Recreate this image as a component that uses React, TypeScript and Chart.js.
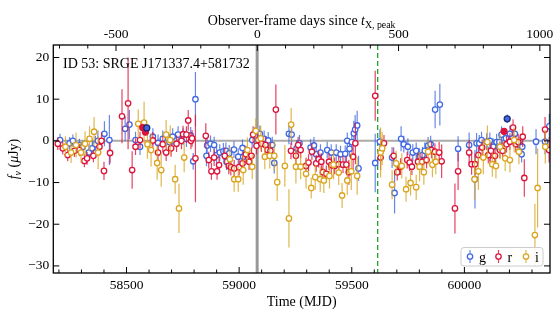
import React, { useEffect, useRef } from "react";
import { Chart, registerables } from "chart.js";
Chart.register(...registerables);

const FONT = '"Liberation Serif", "Times New Roman", serif';

// Axis ranges and tick labels
const X_MIN = 58175;
const X_MAX = 60380;
const Y_MIN = -31.7;
const Y_MAX = 23;
const TOP_MIN = -722;
const TOP_MAX = 1036;
const X_TICKS = [58500, 59000, 59500, 60000];
const TOP_TICKS = [-500, 0, 500, 1000];
const Y_TICKS = [20, 10, 0, -10, -20, -30];
const T_XPEAK_MJD = 59080;
const DASHED_MJD = 59615;

// g band
const gTime = [58205, 58247, 58262, 58291, 58305, 58333, 58348, 58362, 58373, 58402, 58424, 58494, 58513, 58540, 58560, 58617, 58640, 58661, 58690, 58705, 58729, 58751, 58766, 58785, 58796, 58806, 58855, 58858, 58873, 58889, 58900, 58914, 58930, 58941, 58944, 58956, 58977, 58996, 59015, 59018, 59058, 59070, 59092, 59111, 59129, 59147, 59156, 59221, 59233, 59255, 59268, 59317, 59332, 59342, 59361, 59391, 59409, 59431, 59450, 59471, 59480, 59490, 59500, 59509, 59515, 59524, 59530, 59604, 59625, 59679, 59690, 59719, 59731, 59749, 59771, 59786, 59801, 59814, 59824, 59839, 59850, 59870, 59891, 59972, 60021, 60047, 60054, 60066, 60076, 60099, 60113, 60128, 60143, 60155, 60165, 60184, 60202, 60224, 60247, 60254, 60257, 60318, 60358, 60377];
const gFlux = [0.2, -0.6, 0.0, -1.0, -1.5, -2.8, -1.8, -0.8, 0.0, 1.7, 0.2, 2.9, 3.9, 0.2, -1.4, 1.0, -0.5, 0.5, -0.3, 1.0, 1.5, 1.0, 0.5, 1.3, -4.9, 10.0, -3.6, -1.1, -0.7, -1.0, -3.4, -2.8, -2.5, -2.4, -5.0, -3.0, -2.1, -3.8, -1.7, -3.8, 0.2, 1.3, 1.7, 0.5, 0.1, -1.0, -5.3, 1.7, 1.5, -1.8, -0.6, -1.6, -1.1, -3.2, -2.8, -2.2, -2.8, -2.8, -3.2, -3.1, 0.0, -1.9, -0.3, 1.8, 2.7, 3.7, -6.6, -5.3, -0.2, -4.0, -12.5, 0.5, -0.8, -1.4, -2.8, -2.4, -3.8, -3.4, -2.4, -1.1, -0.8, 7.5, 8.7, -1.9, -1.0, -9.2, -0.6, -0.6, 0.2, -0.2, 0.0, -1.4, -0.3, -0.3, 1.5, 0.6, 1.7, 1.7, -1.1, -3.2, -1.4, -0.2, -0.2, 3.5];
const gErr = [1.5, 1.5, 1.5, 1.5, 1.5, 2.0, 2.0, 2.0, 2.5, 3.0, 6.0, 3.0, 3.5, 2.0, 2.0, 2.0, 2.0, 2.0, 2.0, 2.0, 2.0, 2.0, 2.0, 2.0, 2.0, 6.5, 2.5, 2.5, 2.0, 2.0, 2.0, 2.0, 2.0, 2.0, 2.0, 2.0, 2.0, 2.0, 2.0, 2.0, 2.0, 2.0, 2.0, 2.0, 2.0, 2.0, 2.5, 2.5, 2.5, 2.0, 2.0, 2.0, 2.0, 2.0, 2.0, 2.0, 2.0, 2.0, 2.0, 2.0, 2.0, 2.0, 2.5, 3.0, 3.5, 3.5, 3.0, 7.0, 3.0, 2.5, 4.9, 3.0, 2.0, 2.0, 2.0, 2.0, 2.0, 2.0, 2.0, 2.0, 2.0, 4.5, 5.0, 3.0, 3.0, 7.0, 2.5, 2.0, 2.0, 2.0, 2.0, 2.0, 2.0, 2.0, 2.0, 2.0, 2.0, 2.0, 2.0, 2.0, 2.0, 3.0, 3.0, 3.0];

// r band
const rTime = [58195, 58217, 58239, 58269, 58291, 58313, 58325, 58353, 58380, 58389, 58400, 58427, 58480, 58507, 58525, 58540, 58560, 58617, 58640, 58661, 58676, 58698, 58722, 58744, 58751, 58766, 58774, 58786, 58791, 58806, 58852, 58865, 58877, 58889, 58902, 58911, 58936, 58954, 58963, 58978, 59000, 59015, 59030, 59044, 59055, 59062, 59077, 59084, 59099, 59117, 59126, 59139, 59163, 59230, 59252, 59262, 59273, 59297, 59308, 59323, 59342, 59353, 59365, 59372, 59387, 59399, 59409, 59424, 59442, 59461, 59476, 59487, 59506, 59516, 59604, 59628, 59643, 59686, 59702, 59717, 59746, 59757, 59767, 59794, 59812, 59832, 59854, 59869, 59888, 59899, 59958, 59972, 60021, 60032, 60047, 60062, 60079, 60106, 60118, 60125, 60136, 60158, 60170, 60187, 60202, 60216, 60228, 60239, 60259, 60266, 60358, 60376];
const rFlux = [-0.7, -1.8, -3.4, -2.4, -2.2, -4.8, -4.2, -3.6, -1.4, 0.0, -7.2, -2.9, 5.9, 9.0, -7.0, -1.4, 0.2, 0.1, -2.8, -0.8, -2.8, -1.8, -0.7, 0.0, 1.6, 1.5, 4.9, 0.0, 0.6, -4.2, 1.2, -4.6, -7.3, -4.0, -7.3, -5.8, -3.6, -6.0, -6.3, -6.6, -6.3, -5.4, -3.2, -5.0, -3.6, 1.5, -1.2, 0.2, -0.7, -1.0, -2.2, -2.4, 7.5, -2.4, -3.6, -1.0, -2.2, -6.0, -5.2, -2.6, -5.4, -4.4, -5.0, -7.5, -7.9, -5.0, -5.8, -6.0, -5.6, -5.7, -5.7, -7.5, -3.8, -0.6, 10.8, -4.0, -0.6, -3.6, -7.5, -6.2, -4.6, -5.2, -6.2, -5.0, -5.0, -4.6, -2.2, -2.6, -2.8, -4.9, -16.2, -7.3, -2.8, -5.6, -5.6, -3.4, -1.6, -3.4, -2.4, -4.6, -3.6, -2.2, -2.4, -0.8, -0.2, 3.2, -0.8, -0.3, 1.0, -8.9, 2.7, -2.2];
const rErr = [1.5, 1.5, 1.5, 1.5, 1.5, 1.5, 1.5, 1.5, 2.0, 2.0, 2.2, 2.5, 6.5, 11.0, 4.5, 2.0, 2.0, 2.0, 2.0, 2.0, 2.0, 2.0, 2.0, 2.0, 2.0, 2.0, 2.5, 2.0, 2.0, 10.5, 3.0, 2.0, 2.0, 2.0, 2.0, 2.0, 2.0, 2.0, 2.0, 2.0, 2.0, 2.0, 2.0, 2.0, 2.0, 2.0, 2.0, 2.0, 2.0, 2.0, 2.0, 2.0, 6.0, 2.0, 2.0, 2.0, 2.0, 2.0, 2.0, 2.0, 2.0, 2.0, 2.0, 2.0, 2.0, 2.0, 2.0, 2.0, 2.0, 2.0, 2.0, 3.0, 3.5, 5.0, 6.0, 3.0, 2.0, 2.0, 2.0, 2.0, 2.0, 2.0, 2.0, 2.0, 2.0, 2.0, 2.0, 2.0, 2.5, 4.0, 6.0, 4.5, 3.0, 2.5, 2.5, 2.0, 2.0, 2.0, 2.0, 2.0, 2.0, 2.0, 2.0, 2.0, 2.0, 2.0, 2.0, 2.0, 2.5, 4.5, 3.0, 3.0];

// i band
const iTime = [58229, 58254, 58276, 58298, 58316, 58336, 58356, 58374, 58552, 58578, 58593, 58609, 58636, 58654, 58676, 58694, 58716, 58733, 58756, 58959, 58978, 58996, 59018, 59037, 59058, 59074, 59096, 59114, 59136, 59156, 59169, 59203, 59221, 59231, 59252, 59273, 59297, 59320, 59338, 59360, 59376, 59401, 59419, 59442, 59457, 59480, 59498, 59524, 59628, 59635, 59679, 59697, 59722, 59741, 59761, 59786, 59801, 59820, 59839, 59858, 59873, 60045, 60062, 60084, 60102, 60124, 60140, 60158, 60181, 60202, 60221, 60242, 60313, 60325, 60359];
const iFlux = [-1.4, -2.8, -1.0, -2.8, -0.7, 0.5, 2.2, -2.8, 4.1, 4.4, -0.8, -2.2, -5.3, -7.0, 1.5, 0.2, -9.2, -16.2, -4.0, -4.4, -9.2, -9.2, -7.0, -2.2, -6.2, 2.4, 0.6, -3.8, -3.6, -3.6, -9.9, -6.0, -18.6, 3.9, -6.2, -6.2, -7.9, -11.3, -8.7, -9.2, -9.5, -8.4, -5.7, -7.6, -13.1, -9.5, -7.3, -8.4, -2.8, -1.8, -10.5, -5.4, -6.0, -11.6, -10.1, -11.1, -6.2, -7.5, -2.6, -5.7, -5.0, -9.2, -7.3, -4.0, -0.3, -5.6, -6.0, -1.4, -4.2, -4.6, 0.2, -2.6, -22.6, -11.3, -1.4];
const iErr = [2.5, 2.5, 3.0, 2.5, 3.0, 3.0, 3.5, 4.0, 3.5, 5.0, 3.5, 4.0, 4.0, 4.0, 3.5, 3.5, 3.5, 5.9, 3.5, 3.0, 3.0, 3.0, 3.5, 3.0, 3.0, 3.0, 3.0, 3.0, 3.0, 3.5, 4.5, 5.0, 7.0, 4.0, 4.0, 3.0, 3.5, 2.5, 3.0, 3.0, 3.0, 3.0, 3.5, 3.0, 3.0, 3.5, 4.5, 4.5, 6.0, 4.0, 3.5, 3.0, 3.0, 3.0, 3.0, 3.0, 3.5, 3.0, 3.0, 3.0, 3.0, 5.0, 4.5, 4.0, 4.0, 3.0, 3.0, 3.0, 3.0, 3.0, 3.0, 3.0, 7.5, 9.5, 4.0];

// binned (filled) points
const gBinTime = [58590, 60190];
const gBinFlux = [3.1, 5.3];
const gBinErr = [0.8, 1.0];
const rBinTime = [58572, 58584, 60176];
const rBinFlux = [3.2, 2.1, 2.3];
const rBinErr = [0.8, 0.8, 0.8];

const BANDS = ["g", "r", "i"];
const COLORS: Record<string, string> = { g: "#4169E1", r: "#DC143C", i: "#DAA520" };
const ERR_COLORS: Record<string, string> = {
  g: "rgba(65,105,225,0.8)",
  r: "rgba(220,20,60,0.8)",
  i: "rgba(218,165,32,0.8)",
};

function pts(t: number[], f: number[]) {
  return t.map((x, k) => ({ x, y: f[k] }));
}

type Seg = { t: string; it?: boolean; sub?: boolean };
function drawRich(ctx: CanvasRenderingContext2D, segs: Seg[], x: number, y: number, size: number, align: "left" | "center") {
  const parts = segs.map((s) => {
    const fs = s.sub ? size * 0.7 : size;
    const f = `${s.it ? "italic " : ""}${fs}px ${FONT}`;
    ctx.font = f;
    return { ...s, f, w: ctx.measureText(s.t).width };
  });
  const total = parts.reduce((a, p) => a + p.w, 0);
  let cx = align === "center" ? x - total / 2 : x;
  ctx.textAlign = "left";
  ctx.textBaseline = "alphabetic";
  for (const p of parts) {
    ctx.font = p.f;
    ctx.fillText(p.t, cx, y + (p.sub ? size * 0.25 : 0));
    cx += p.w;
  }
}

const decor = {
  id: "decor",
  beforeDatasetsDraw(chart: any) {
    const { ctx, chartArea: ca, scales } = chart;
    ctx.save();
    ctx.beginPath();
    ctx.rect(ca.left, ca.top, ca.right - ca.left, ca.bottom - ca.top);
    ctx.clip();
    const y0 = scales.y.getPixelForValue(0);
    ctx.strokeStyle = "#aaaaaa";
    ctx.lineWidth = 2;
    ctx.beginPath();
    ctx.moveTo(ca.left, y0);
    ctx.lineTo(ca.right, y0);
    ctx.stroke();
    const xp = scales.x.getPixelForValue(T_XPEAK_MJD);
    ctx.strokeStyle = "#999999";
    ctx.lineWidth = 3;
    ctx.beginPath();
    ctx.moveTo(xp, ca.top);
    ctx.lineTo(xp, ca.bottom);
    ctx.stroke();
    const xd = scales.x.getPixelForValue(DASHED_MJD);
    ctx.strokeStyle = "#22a82a";
    ctx.lineWidth = 1.3;
    ctx.setLineDash([5, 3]);
    ctx.beginPath();
    ctx.moveTo(xd, ca.top);
    ctx.lineTo(xd, ca.bottom);
    ctx.stroke();
    ctx.restore();
  },
  beforeDatasetDraw(chart: any, args: any) {
    const ds = chart.data.datasets[args.index];
    if (!ds.errs) return;
    const { ctx, chartArea: ca, scales } = chart;
    ctx.save();
    ctx.beginPath();
    ctx.rect(ca.left, ca.top, ca.right - ca.left, ca.bottom - ca.top);
    ctx.clip();
    ctx.strokeStyle = ds.errColor;
    ctx.lineWidth = 1.2;
    ds.data.forEach((p: any, k: number) => {
      const el = args.meta.data[k];
      const y1 = scales.y.getPixelForValue(p.y - ds.errs[k]);
      const y2 = scales.y.getPixelForValue(p.y + ds.errs[k]);
      ctx.beginPath();
      ctx.moveTo(el.x, y1);
      ctx.lineTo(el.x, y2);
      ctx.stroke();
    });
    ctx.restore();
  },
  afterDraw(chart: any) {
    const { ctx, chartArea: ca, scales } = chart;
    ctx.save();
    ctx.strokeStyle = "#000";
    ctx.lineWidth = 1;
    const seg = (a: number, b: number, c: number, d: number) => {
      ctx.beginPath();
      ctx.moveTo(a, b);
      ctx.lineTo(c, d);
      ctx.stroke();
    };
    // bottom ticks
    for (let v = 58200; v <= X_MAX; v += 100) {
      const px = scales.x.getPixelForValue(v);
      const major = X_TICKS.includes(v);
      seg(px, ca.bottom, px, ca.bottom - (major ? 6 : 3.5));
    }
    // top ticks
    for (let v = -700; v <= TOP_MAX; v += 100) {
      const px = scales.x2.getPixelForValue(v);
      const major = TOP_TICKS.includes(v);
      seg(px, ca.top, px, ca.top + (major ? 6 : 3.5));
    }
    // y ticks (left and right)
    for (const v of Y_TICKS) {
      const py = scales.y.getPixelForValue(v);
      seg(ca.left, py, ca.left + 6, py);
      seg(ca.right, py, ca.right - 6, py);
    }
    // frame
    ctx.lineWidth = 1.3;
    ctx.strokeRect(ca.left, ca.top, ca.right - ca.left, ca.bottom - ca.top);

    // texts
    ctx.fillStyle = "#000";
    const cx = (ca.left + ca.right) / 2;
    drawRich(ctx, [{ t: "Observer-frame days since " }, { t: "t", it: true }, { t: "X, peak", sub: true }], cx, 24.5, 14, "center");
    drawRich(ctx, [{ t: "Time (MJD)" }], cx, 305.5, 14, "center");
    drawRich(ctx, [{ t: "ID 53: SRGE J171337.4+581732" }], 63, 67.5, 14, "left");
    ctx.save();
    ctx.translate(17.5, (ca.top + ca.bottom) / 2);
    ctx.rotate(-Math.PI / 2);
    drawRich(ctx, [{ t: "f", it: true }, { t: "ν", it: true, sub: true }, { t: " (" }, { t: "μ", it: true }, { t: "Jy)" }], 0, 0, 14, "center");
    ctx.restore();

    // legend
    const lx = 461, ly = 247.5, lw = 82, lh = 18.5;
    ctx.fillStyle = "rgba(255,255,255,0.85)";
    ctx.strokeStyle = "#cccccc";
    ctx.lineWidth = 1;
    ctx.beginPath();
    (ctx as any).roundRect(lx, ly, lw, lh, 3);
    ctx.fill();
    ctx.stroke();
    const iconX = [470, 498.5, 526];
    BANDS.forEach((b, k) => {
      const x = iconX[k];
      const yc = 256.5;
      ctx.strokeStyle = ERR_COLORS[b];
      ctx.lineWidth = 1.2;
      seg(x, yc - 6.5, x, yc + 6.5);
      ctx.beginPath();
      ctx.arc(x, yc, 2.7, 0, Math.PI * 2);
      ctx.fillStyle = "#fff";
      ctx.fill();
      ctx.strokeStyle = COLORS[b];
      ctx.lineWidth = 1.3;
      ctx.stroke();
      ctx.fillStyle = "#000";
      drawRich(ctx, [{ t: b }], x + 9, 261.5, 14, "left");
    });
    ctx.restore();
  },
};

export default function App() {
  const ref = useRef<HTMLCanvasElement>(null);
  useEffect(() => {
    document.body.style.margin = "0";
    const mk = (label: string, t: number[], f: number[], e: number[], band: string, order: number) => ({
      label,
      data: pts(t, f),
      errs: e,
      errColor: ERR_COLORS[band],
      order,
      pointRadius: 2.7,
      pointHoverRadius: 2.7,
      pointBorderWidth: 1.3,
      pointBackgroundColor: "#ffffff",
      pointBorderColor: COLORS[band],
      showLine: false,
    });
    const datasets: any[] = [
      mk("g", gTime, gFlux, gErr, "g", 3),
      mk("r", rTime, rFlux, rErr, "r", 2),
      mk("i", iTime, iFlux, iErr, "i", 1),
      {
        ...mk("g binned", gBinTime, gBinFlux, gBinErr, "g", 0),
        pointRadius: 3,
        pointBackgroundColor: COLORS.g,
        pointBorderColor: "#1c2a70",
      },
      {
        ...mk("r binned", rBinTime, rBinFlux, rBinErr, "r", 0),
        pointRadius: 3,
        pointBackgroundColor: COLORS.r,
        pointBorderColor: COLORS.r,
      },
    ];
    const tickFont = { family: FONT, size: 13.5 };
    const chart = new Chart(ref.current as HTMLCanvasElement, {
      type: "scatter",
      data: { datasets },
      options: {
        animation: false,
        responsive: true,
        maintainAspectRatio: false,
        layout: { padding: { left: 0, right: 10, top: 0, bottom: 0 } },
        plugins: { legend: { display: false }, tooltip: { enabled: false } },
        scales: {
          x: {
            type: "linear",
            position: "bottom",
            min: X_MIN,
            max: X_MAX,
            grid: { display: false, drawTicks: false },
            border: { display: false },
            afterBuildTicks: (s: any) => {
              s.ticks = X_TICKS.map((v) => ({ value: v }));
            },
            afterFit: (s: any) => {
              s.height = 47;
            },
            ticks: { font: tickFont, color: "#000", padding: 4, maxRotation: 0, autoSkip: false, callback: (v: any) => String(v) },
          },
          x2: {
            type: "linear",
            position: "top",
            min: TOP_MIN,
            max: TOP_MAX,
            grid: { display: false, drawTicks: false },
            border: { display: false },
            afterBuildTicks: (s: any) => {
              s.ticks = TOP_TICKS.map((v) => ({ value: v }));
            },
            afterFit: (s: any) => {
              s.height = 45;
            },
            ticks: { font: tickFont, color: "#000", padding: 2.5, maxRotation: 0, autoSkip: false, callback: (v: any) => String(v) },
          },
          y: {
            type: "linear",
            position: "left",
            min: Y_MIN,
            max: Y_MAX,
            grid: { display: false, drawTicks: false },
            border: { display: false },
            afterBuildTicks: (s: any) => {
              s.ticks = Y_TICKS.map((v) => ({ value: v }));
            },
            afterFit: (s: any) => {
              s.width = 53.3;
            },
            ticks: {
              font: tickFont,
              color: "#000",
              padding: 4,
              autoSkip: false,
              callback: (v: any) => (v < 0 ? "\u2212" + Math.abs(v) : String(v)),
            },
          },
        },
      } as any,
      plugins: [decor],
    });
    return () => chart.destroy();
  }, []);
  return (
    <div style={{ position: "relative", width: 560, height: 320 }}>
      <canvas ref={ref} />
    </div>
  );
}
